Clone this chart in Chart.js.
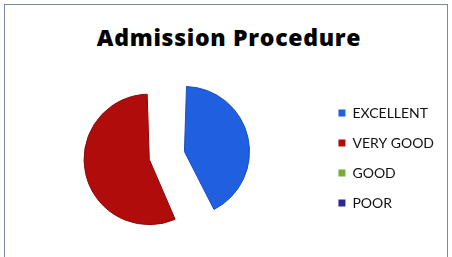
<!DOCTYPE html>
<html>
<head>
<meta charset="utf-8">
<script src="https://cdn.jsdelivr.net/npm/chart.js@4/dist/chart.umd.min.js"></script>
<style>
  html, body { margin: 0; padding: 0; background: #fff; }
  body { width: 452px; height: 257px; overflow: hidden; position: relative; }
  .frame {
    position: absolute; left: 4px; top: 4px; width: 444px; height: 270px;
    border: 1.5px solid #7c8996; box-sizing: border-box;
  }
  .chart-title {
    position: absolute; left: 3px; top: 21px; width: 452px;
    text-align: center; white-space: nowrap;
    font-family: 'Open Sans', sans-serif; font-weight: 800; font-size: 23px;
    letter-spacing: 0.7px; color: #000;
  }
  #chartBox { position: absolute; left: 0; top: 0; width: 452px; height: 257px; }
</style>
</head>
<body>
<div class="frame"></div>
<div class="chart-title">Admission Procedure</div>
<div id="chartBox"><canvas id="admissionPie"></canvas></div>
<script>
// chart data
const ratingLabels = ['EXCELLENT', 'VERY GOOD', 'GOOD', 'POOR'];
const ratingValues = [43, 57, 0, 0];
const ratingColors = ['#1f5fe0', '#b00c0c', '#76ad35', '#2a2a8f'];
const ratingEdges = ['#1a4fc0', '#8a0808', '#5f9028', '#20206e'];
// exploded slices: chart.js moves an arc by offset/4 and grows small arcs less,
// so the offsets differ to keep both slices the same size
const sliceOffsets = [91, 53, 0, 0];

const ctx = document.getElementById('admissionPie').getContext('2d');
new Chart(ctx, {
    type: 'pie',
    data: {
        labels: ratingLabels,
        datasets: [{
            data: ratingValues,
            backgroundColor: ratingColors,
            borderColor: ratingEdges,
            borderWidth: 1,
            offset: sliceOffsets,
            radius: 52
        }]
    },
    options: {
        responsive: true,
        maintainAspectRatio: false,
        animation: false,
        layout: {
            padding: { left: 2, right: 8, top: 87, bottom: 31 }
        },
        plugins: {
            legend: {
                position: 'right',
                align: 'end',
                labels: {
                    boxWidth: 7,
                    boxHeight: 7,
                    padding: 16,
                    color: '#111',
                    font: { family: 'Lato', size: 14 },
                    generateLabels: (chart) => ratingLabels.map((label, i) => ({
                        text: label,
                        fillStyle: ratingColors[i],
                        strokeStyle: ratingColors[i],
                        fontColor: '#111',
                        lineWidth: 0,
                        index: i
                    }))
                }
            },
            tooltip: { enabled: false }
        }
    }
});
</script>
</body>
</html>
